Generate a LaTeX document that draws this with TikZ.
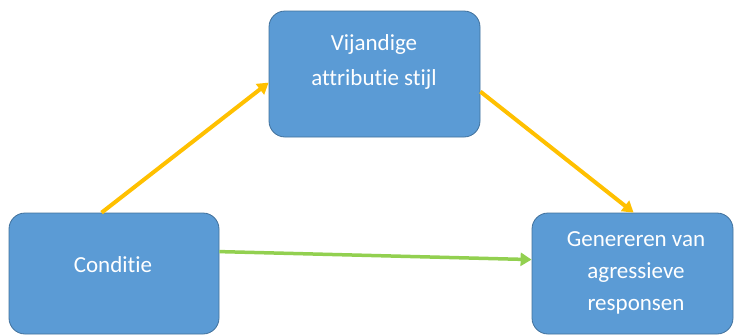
\documentclass[tikz,border=0pt]{standalone}
\usepackage{fontspec}
\setmainfont{Carlito}[Ligatures={NoCommon}]
\usetikzlibrary{arrows.meta,calc}
\definecolor{boxfill}{HTML}{5B9BD5}
\definecolor{boxline}{HTML}{41719C}
\definecolor{arrY}{HTML}{FFC000}
\definecolor{arrG}{HTML}{92D050}
\begin{document}
\begin{tikzpicture}[x=1pt,y=-1pt,
  box/.style={draw=boxline, line width=0.8pt, fill=boxfill, rounded corners=16pt, inner sep=0pt},
  lbl/.style={text=white, align=center, inner sep=0pt},
  yarrow/.style={draw=arrY, line width=4pt, -{Triangle[length=11pt,width=13pt]}},
  garrow/.style={draw=arrG, line width=3.5pt, -{Triangle[length=11pt,width=13pt]}}]
\useasboundingbox (0,0) rectangle (736,335);
\node[box, minimum width=210pt, minimum height=121pt] (c) at (114,273.5) {};
\node[box, minimum width=211pt, minimum height=126pt] (v) at (374.5,74) {};
\node[box, minimum width=201pt, minimum height=121pt] (r) at (632.5,273.5) {};
\node[lbl, font=\fontsize{23}{35}\selectfont] (vt) at (374,62) {Vijandige\\attributie stijl};
\node[lbl, font=\fontsize{23}{28}\selectfont] (ct) at (113,265) {Conditie};
\node[lbl, font=\fontsize{23}{32}\selectfont] (rt) at (636,273) {Genereren van\\agressieve\\responsen};
\draw[yarrow] ($(c.north west)+(93,0)$) -- ($(v.north west)+(0,72)$);
\draw[yarrow] ($(v.north east)+(0,81)$) -- ($(r.north west)+(102,0)$);
\draw[garrow] ($(c.north east)+(0,39)$) -- ($(r.north west)+(0,47)$);
\end{tikzpicture}
\end{document}
